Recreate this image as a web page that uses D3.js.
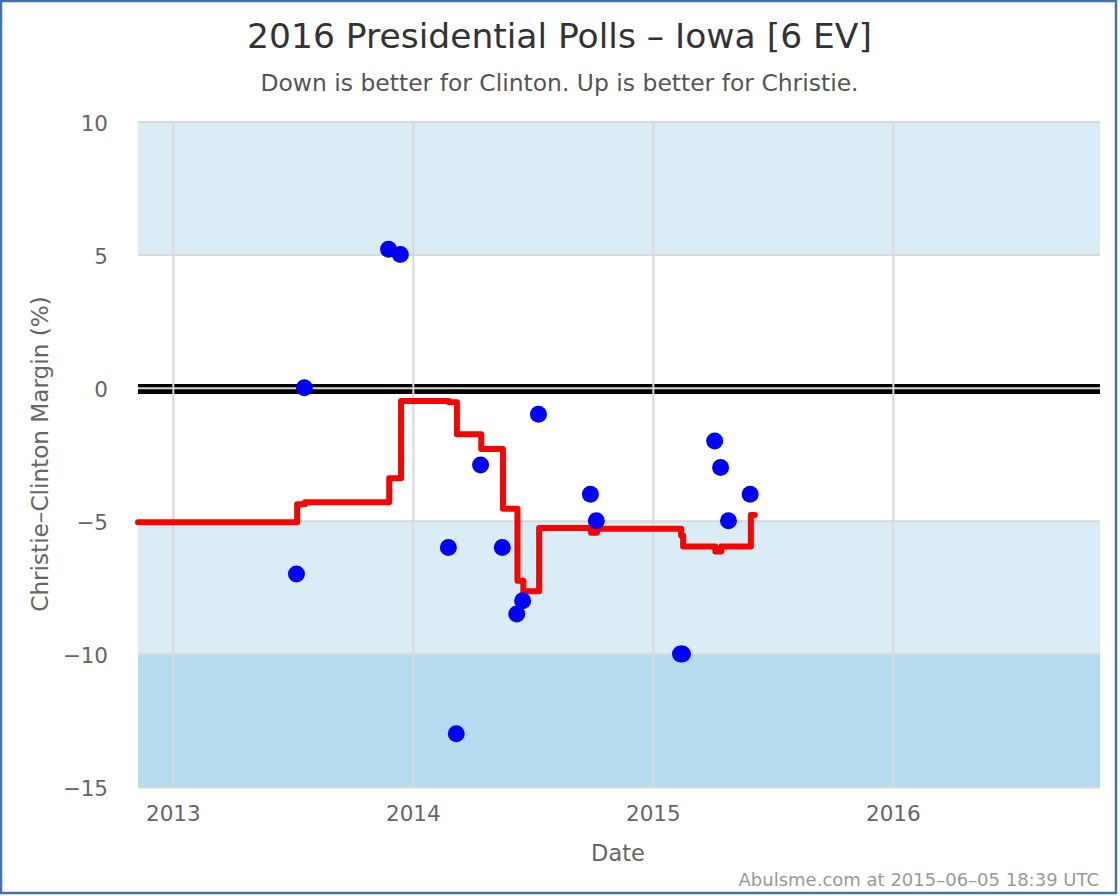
<!DOCTYPE html>
<html>
<head>
<meta charset="utf-8">
<script src="https://cdn.jsdelivr.net/npm/d3@7"></script>
<style>
  body { margin: 0; background: #fff; }
  text { font-family: "DejaVu Sans", sans-serif; }
</style>
</head>
<body>
<svg></svg>
<script>
// poll dots
var pollDates = ["2013-07-08", "2013-07-20", "2013-11-25", "2013-12-13", "2014-02-24", "2014-03-08",
  "2014-04-14", "2014-05-17", "2014-06-08", "2014-06-17", "2014-07-11", "2014-09-28", "2014-10-07",
  "2015-02-12", "2015-02-15", "2015-04-05", "2015-04-14", "2015-04-26", "2015-05-29"];
var pollMargins = [-7, 0, 5.2, 5, -6, -13, -2.9, -6, -8.5, -8, -1, -4, -5, -10, -10, -2, -3, -5, -4];

// red running average, steps at each poll
var avgDates = ["2012-11-09", "2013-07-09", "2013-07-21", "2013-11-26", "2013-12-14", "2014-02-25",
  "2014-03-09", "2014-04-15", "2014-05-18", "2014-06-09", "2014-06-18", "2014-07-12", "2014-09-29",
  "2014-10-08", "2015-02-13", "2015-02-16", "2015-04-06", "2015-04-15", "2015-05-30", "2015-06-05"];
var avgMargins = [-5.05, -4.38, -4.3, -3.4, -0.5, -0.55, -1.75, -2.3, -4.55, -7.25, -7.65, -5.27, -5.45,
  -5.3, -5.55, -5.97, -6.15, -5.97, -4.78, -4.78];

// shaded bands [from, to]
var lightBands = [[5, 10], [-10, -5]];
var darkBands = [[-15, -10]];

var yTicks = [10, 5, 0, -5, -10, -15];
var xTicks = ["2013-01-01", "2014-01-01", "2015-01-01", "2016-01-01"];
var xDomain = ["2012-11-09", "2016-11-11"];

var titleText = "2016 Presidential Polls \u2013 Iowa [6 EV]";
var subtitleText = "Down is better for Clinton. Up is better for Christie.";
var yTitleText = "Christie\u2013Clinton Margin (%)";
var xTitleText = "Date";
var creditText = "Abulsme.com at 2015\u201306\u201305 18:39 UTC";

var svgWidth = 1120;
var svgHeight = 896;
var plot = { left: 138, right: 1100, top: 121.5, bottom: 787 };

var parseDate = d3.utcParse("%Y-%m-%d");

var svg = d3.select("svg")
    .attr("width", svgWidth)
    .attr("height", svgHeight)
    .style("display", "block");

var xScale = d3.scaleUtc()
    .domain(xDomain.map(parseDate))
    .range([plot.left, plot.right]);

var yScale = d3.scaleLinear()
    .domain([10, -15])
    .range([plot.top, plot.bottom]);

// outer border
svg.append("rect")
    .attr("x", 1)
    .attr("y", 1)
    .attr("width", 1115)
    .attr("height", 892)
    .attr("fill", "#fff")
    .attr("stroke", "#4572a7")
    .attr("stroke-width", 2.5);

// bands
function drawBands(bands, color) {
  svg.append("g").selectAll("rect")
      .data(bands)
      .enter()
      .append("rect")
      .attr("x", plot.left)
      .attr("width", plot.right - plot.left)
      .attr("y", d => yScale(d[1]))
      .attr("height", d => yScale(d[0]) - yScale(d[1]))
      .attr("fill", color);
}
drawBands(lightBands, "#daedf6");
drawBands(darkBands, "#b5dcee");

// black line on zero
svg.append("line")
    .attr("x1", plot.left)
    .attr("x2", plot.right)
    .attr("y1", yScale(0) + 1.3)
    .attr("y2", yScale(0) + 1.3)
    .attr("stroke", "#000")
    .attr("stroke-width", 10);

// axes, gridlines are the ticks
var bottomAxis = d3.axisBottom(xScale)
    .tickValues(xTicks.map(parseDate))
    .tickFormat(d3.utcFormat("%Y"))
    .tickSize(plot.bottom - plot.top)
    .tickPadding(19);

var leftAxis = d3.axisLeft(yScale)
    .tickValues(yTicks)
    .tickFormat(d => d < 0 ? "\u2212" + Math.abs(d) : d)
    .tickSize(plot.right - plot.left)
    .tickPadding(30);

var xAxisGroup = svg.append("g")
    .attr("transform", `translate(0, ${plot.top})`)
    .call(bottomAxis);

var yAxisGroup = svg.append("g")
    .attr("transform", `translate(${plot.right}, 0)`)
    .call(leftAxis);

[xAxisGroup, yAxisGroup].forEach(function(group) {
  group.select(".domain").remove();
  group.selectAll("line")
      .attr("stroke", "#d8d8d8")
      .attr("stroke-width", 2);
  group.selectAll("text")
      .attr("fill", "#666")
      .style("font-size", "21.5px");
});
yAxisGroup.selectAll("text").attr("dy", "0.4em");

// red line
var avgLine = d3.line()
    .x(d => xScale(parseDate(d[0])))
    .y(d => yScale(d[1]))
    .curve(d3.curveStepAfter);

svg.append("path")
    .datum(d3.zip(avgDates, avgMargins))
    .attr("d", avgLine)
    .attr("fill", "none")
    .attr("stroke", "#f00")
    .attr("stroke-width", 6)
    .attr("stroke-linejoin", "round")
    .attr("stroke-linecap", "round");

// dots
svg.append("g").selectAll("circle")
    .data(d3.zip(pollDates, pollMargins))
    .enter()
    .append("circle")
    .attr("r", 8.5)
    .attr("cx", d => xScale(parseDate(d[0])))
    .attr("cy", d => yScale(d[1]))
    .attr("fill", "#00f");

// texts
svg.append("text")
    .attr("x", 559.5)
    .attr("y", 48)
    .attr("text-anchor", "middle")
    .attr("fill", "#333")
    .style("font-size", "34.5px")
    .text(titleText);

svg.append("text")
    .attr("x", 559.5)
    .attr("y", 90.5)
    .attr("text-anchor", "middle")
    .attr("fill", "#555")
    .style("font-size", "23.45px")
    .text(subtitleText);

svg.append("text")
    .attr("transform", "translate(48, 454) rotate(-90)")
    .attr("text-anchor", "middle")
    .attr("fill", "#666")
    .style("font-size", "23.15px")
    .text(yTitleText);

svg.append("text")
    .attr("x", 618)
    .attr("y", 860.5)
    .attr("text-anchor", "middle")
    .attr("fill", "#666")
    .style("font-size", "22.5px")
    .text(xTitleText);

svg.append("text")
    .attr("x", 1099)
    .attr("y", 885.5)
    .attr("text-anchor", "end")
    .attr("fill", "#999")
    .style("font-size", "18px")
    .text(creditText);
</script>
</body>
</html>
